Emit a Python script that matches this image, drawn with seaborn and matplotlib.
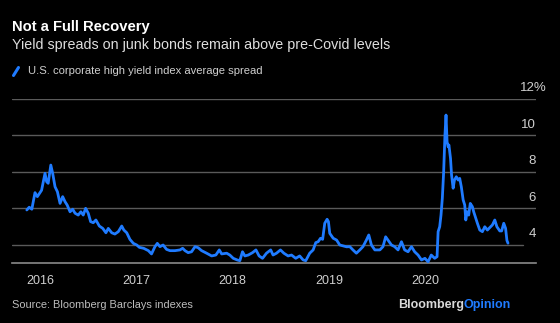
import matplotlib
matplotlib.use("Agg")
import matplotlib.pyplot as plt
import matplotlib.dates as mdates
import matplotlib.transforms as mtrans
from matplotlib.lines import Line2D
import pandas as pd
import seaborn as sns

# U.S. corporate high yield index average spread (%), weekly-ish readings
dates = [
    "2015-11-12", "2015-11-21", "2015-12-01", "2015-12-13", "2015-12-22", "2015-12-29",
    "2016-01-07", "2016-01-20", "2016-01-26", "2016-02-01", "2016-02-11", "2016-02-18",
    "2016-02-27", "2016-03-07", "2016-03-17", "2016-03-27", "2016-04-05", "2016-04-13",
    "2016-04-24", "2016-05-04", "2016-05-13", "2016-05-25", "2016-06-04", "2016-06-13",
    "2016-06-22", "2016-07-02", "2016-07-11", "2016-07-21", "2016-07-31", "2016-08-13",
    "2016-08-26", "2016-09-07", "2016-09-16", "2016-09-29", "2016-10-11", "2016-10-24",
    "2016-11-06", "2016-11-14", "2016-11-25", "2016-12-07", "2016-12-20", "2017-01-02",
    "2017-01-12", "2017-01-28", "2017-02-15", "2017-02-27", "2017-03-12", "2017-03-21",
    "2017-03-31", "2017-04-12", "2017-04-25", "2017-05-08", "2017-05-27", "2017-06-15",
    "2017-06-25", "2017-07-04", "2017-07-16", "2017-07-29", "2017-08-11", "2017-08-23",
    "2017-09-05", "2017-09-24", "2017-10-13", "2017-10-29", "2017-11-11", "2017-11-20",
    "2017-12-09", "2017-12-21", "2018-01-03", "2018-01-18", "2018-01-28", "2018-02-07",
    "2018-02-16", "2018-03-01", "2018-03-17", "2018-03-30", "2018-04-11", "2018-04-24",
    "2018-05-09", "2018-05-25", "2018-06-03", "2018-06-16", "2018-07-01", "2018-07-14",
    "2018-07-30", "2018-08-12", "2018-08-28", "2018-09-12", "2018-09-25", "2018-10-05",
    "2018-10-20", "2018-11-02", "2018-11-12", "2018-11-21", "2018-11-30", "2018-12-08",
    "2018-12-16", "2018-12-25", "2018-12-30", "2019-01-04", "2019-01-17", "2019-01-30",
    "2019-02-11", "2019-02-24", "2019-03-09", "2019-03-21", "2019-04-02", "2019-04-15",
    "2019-04-28", "2019-05-10", "2019-05-23", "2019-06-01", "2019-06-11", "2019-06-24",
    "2019-07-13", "2019-07-25", "2019-08-04", "2019-08-13", "2019-08-26", "2019-09-07",
    "2019-09-20", "2019-10-03", "2019-10-15", "2019-10-28", "2019-11-10", "2019-11-22",
    "2019-12-05", "2019-12-18", "2019-12-31", "2020-01-12", "2020-01-24", "2020-02-06",
    "2020-02-15", "2020-02-19", "2020-02-25", "2020-03-01", "2020-03-06", "2020-03-11",
    "2020-03-16", "2020-03-20", "2020-03-24", "2020-03-28", "2020-03-31", "2020-04-06",
    "2020-04-10", "2020-04-16", "2020-04-21", "2020-04-28", "2020-05-05", "2020-05-11",
    "2020-05-17", "2020-05-24", "2020-05-30", "2020-06-03", "2020-06-08", "2020-06-14",
    "2020-06-20", "2020-06-28", "2020-07-03", "2020-07-11", "2020-07-17", "2020-07-26",
    "2020-08-05", "2020-08-14", "2020-08-24", "2020-09-02", "2020-09-12", "2020-09-21",
    "2020-09-29", "2020-10-10", "2020-10-17", "2020-10-25", "2020-11-01", "2020-11-06",
    "2020-11-10",
]
spread = [
    5.92, 6.07, 5.96, 6.87, 6.65, 6.80,
    7.00, 7.93, 7.47, 7.38, 8.38, 7.93,
    7.19, 6.92, 6.28, 6.65, 6.37, 6.19,
    5.82, 5.96, 5.74, 5.64, 5.82, 5.64,
    6.01, 5.74, 5.28, 5.22, 5.37, 5.04,
    4.91, 4.67, 4.91, 4.67, 4.60, 4.73,
    5.04, 4.82, 4.67, 4.31, 4.09, 4.00,
    3.87, 3.82, 3.69, 3.51, 3.91, 4.09,
    3.91, 4.00, 3.76, 3.69, 3.69, 3.73,
    3.82, 3.69, 3.58, 3.63, 3.91, 3.85,
    3.69, 3.55, 3.40, 3.45, 3.73, 3.51,
    3.55, 3.45, 3.27, 3.18, 3.14, 3.63,
    3.40, 3.45, 3.58, 3.73, 3.40, 3.27,
    3.55, 3.73, 3.45, 3.55, 3.73, 3.55,
    3.40, 3.45, 3.27, 3.40, 3.18, 3.14,
    3.55, 3.73, 4.13, 4.18, 4.37, 4.31,
    5.19, 5.41, 5.28, 4.64, 4.37, 4.27,
    4.00, 3.95, 3.90, 3.91, 3.73, 3.55,
    3.73, 3.91, 4.27, 4.55, 4.00, 3.73,
    3.73, 3.91, 4.45, 4.27, 4.00, 3.91,
    3.73, 4.18, 3.73, 3.63, 3.91, 3.63,
    3.45, 3.18, 3.27, 3.08, 3.45, 3.27,
    3.36, 4.73, 5.00, 5.64, 6.56, 8.00,
    10.03, 11.12, 9.66, 9.38, 9.48, 8.75,
    7.84, 7.11, 7.56, 7.74, 7.56, 7.65,
    7.19, 6.47, 6.19, 5.37, 5.82, 5.64,
    6.28, 6.10, 5.82, 5.46, 5.19, 4.82,
    4.73, 5.00, 4.82, 4.95, 5.10, 5.37,
    5.00, 4.77, 4.77, 5.19, 4.91, 4.25,
    4.10,
]
y_ticks = [4, 6, 8, 10, 12]
y_tick_labels = ["4", "6", "8", "10", "12%"]
years = [2016, 2017, 2018, 2019, 2020]

series_label = "U.S. corporate high yield index average spread"
title = "Not a Full Recovery"
subtitle = "Yield spreads on junk bonds remain above pre-Covid levels"
source = "Source: Bloomberg Barclays indexes"

df = pd.DataFrame({"date": pd.to_datetime(dates), "spread": spread})

BG = "#000000"
BLUE = "#1f7bff"
GRID = "#5a5a5a"
LABEL = "#cfcfcf"

sns.set_theme(style="dark")
plt.rcParams["font.family"] = ["Liberation Sans", "DejaVu Sans"]

fig = plt.figure(figsize=(5.6, 3.23), dpi=100, facecolor=BG)
ax = fig.add_axes([0.022, 0.1867, 0.935, 0.5068], facecolor=BG)

# horizontal gridlines (the lowest one stops short of the axis labels)
for v in y_ticks:
    ax.axhline(v, xmin=0, xmax=0.975 if v == 4 else 1.0, color=GRID, lw=1.0, zorder=1)

sns.lineplot(data=df, x="date", y="spread", ax=ax, color=BLUE, lw=2.0, zorder=3)

ax.set_xlim(pd.Timestamp("2015-09-18"), pd.Timestamp("2021-02-24"))
ax.set_ylim(3.03, 12)

for s in ["top", "right", "left"]:
    ax.spines[s].set_visible(False)
ax.spines["bottom"].set_color("#8a8a8a")
ax.spines["bottom"].set_linewidth(1.2)

ax.set_xticks([pd.Timestamp(f"{y}-01-01") for y in years])
ax.xaxis.set_major_formatter(mdates.DateFormatter("%Y"))
ax.tick_params(axis="x", colors="#8a8a8a", length=4, width=1, pad=5,
               labelcolor=LABEL, labelsize=9)
ax.set_yticks([])
ax.set_xlabel("")
ax.set_ylabel("")
ax.grid(False)

# right-hand value labels sitting above each gridline; the unit sign hangs
# past the right edge of the numbers
base_tf = mtrans.blended_transform_factory(ax.transAxes, ax.transData)
for v, t in zip(y_ticks, y_tick_labels):
    dx = 8 if t.endswith("%") else 0
    tf = mtrans.offset_copy(base_tf, fig=fig, x=dx, y=3.5, units="points")
    ax.text(1.0, v, t, transform=tf, ha="right", va="bottom",
            color=LABEL, fontsize=9.5)

# header
fig.text(12 / 560, 1 - 27 / 323, title, color="white", fontsize=10.6,
         fontweight="bold", va="center", ha="left")
fig.text(12 / 560, 1 - 45.5 / 323, subtitle, color="#dedede", fontsize=10.3,
         va="center", ha="left")
fig.add_artist(Line2D([13.5 / 560, 18.5 / 560], [1 - 75.5 / 323, 1 - 67.5 / 323],
                      color=BLUE, lw=2.2, transform=fig.transFigure))
fig.text(28 / 560, 1 - 71 / 323, series_label, color=LABEL, fontsize=8.15,
         va="center", ha="left")

# footer
fig.text(12 / 560, 1 - 305 / 323, source, color="#bdbdbd", fontsize=7.9,
         va="center", ha="left")
op = fig.text(511 / 560, 1 - 305 / 323, "Opinion", color=BLUE, fontsize=9,
              fontweight="bold", va="center", ha="right")
fig.canvas.draw()
bb = op.get_window_extent()
fig.text(bb.x0 / fig.bbox.width, 1 - 305 / 323, "Bloomberg", color="#d8d8d8",
         fontsize=9, fontweight="bold", va="center", ha="right")

fig.savefig("out.png", dpi=100, facecolor=BG)
